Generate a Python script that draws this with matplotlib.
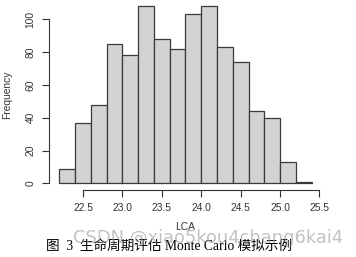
import matplotlib
matplotlib.use("Agg")
import matplotlib.pyplot as plt
import numpy as np

bin_edges = [22.2, 22.4, 22.6, 22.8, 23.0, 23.2, 23.4, 23.6, 23.8, 24.0,
             24.2, 24.4, 24.6, 24.8, 25.0, 25.2, 25.4]
counts = [9, 37, 48, 85, 78, 108, 88, 82, 103, 108, 83, 74, 44, 40, 13, 1]
x_ticks = [22.5, 23.0, 23.5, 24.0, 24.5, 25.0, 25.5]
y_ticks = [0, 20, 40, 60, 80, 100]

fig = plt.figure(figsize=(3.56, 2.57), dpi=100)
ax = fig.add_axes([0.1385, 0.259, 0.765, 0.745])

left = np.array(bin_edges[:-1])
widths = np.diff(bin_edges)
ax.bar(left, counts, width=widths, align='edge', color='#D3D3D3',
       edgecolor='#3a3a3a', linewidth=0.9)

ax.set_xlim(22.072, 25.528)
ax.set_ylim(-4.32, 112.32)
for s in ['top', 'right']:
    ax.spines[s].set_visible(False)
ax.spines['left'].set_bounds(0, 100)
ax.spines['bottom'].set_bounds(22.5, 25.5)
for s in ['left', 'bottom']:
    ax.spines[s].set_color('#333333')
    ax.spines[s].set_linewidth(0.8)

ax.set_xticks(x_ticks)
ax.set_xticklabels([f"{v:.1f}" for v in x_ticks], fontsize=7.4,
                   family='Liberation Sans', color='#333333')
ax.set_yticks(y_ticks)
ax.set_yticklabels([str(v) for v in y_ticks], fontsize=7.4,
                   family='Liberation Sans', color='#333333',
                   rotation=90, va='center')
ax.tick_params(axis='both', length=5, width=0.8, color='#333333', pad=4)
ax.tick_params(axis='y', pad=5)

ax.set_xlabel('LCA', fontsize=7.4, family='Liberation Sans', color='#333333', labelpad=6.5)
ax.set_ylabel('Frequency', fontsize=7.4, family='Liberation Sans', color='#333333', labelpad=9.5)

fig.text(0.475, 0.040, '图  3  生命周期评估 Monte Carlo 模拟示例', ha='center', va='center',
         fontsize=9.8, family=['Liberation Serif', 'Noto Sans CJK SC'], color='black')
fig.text(0.583, 0.074, 'CSDN @xiao5kou4chang6kai4', ha='center', va='center',
         fontsize=12.9, family='DejaVu Sans', color='#9a9a9a', alpha=0.6)

fig.savefig('out.png', dpi=100)
